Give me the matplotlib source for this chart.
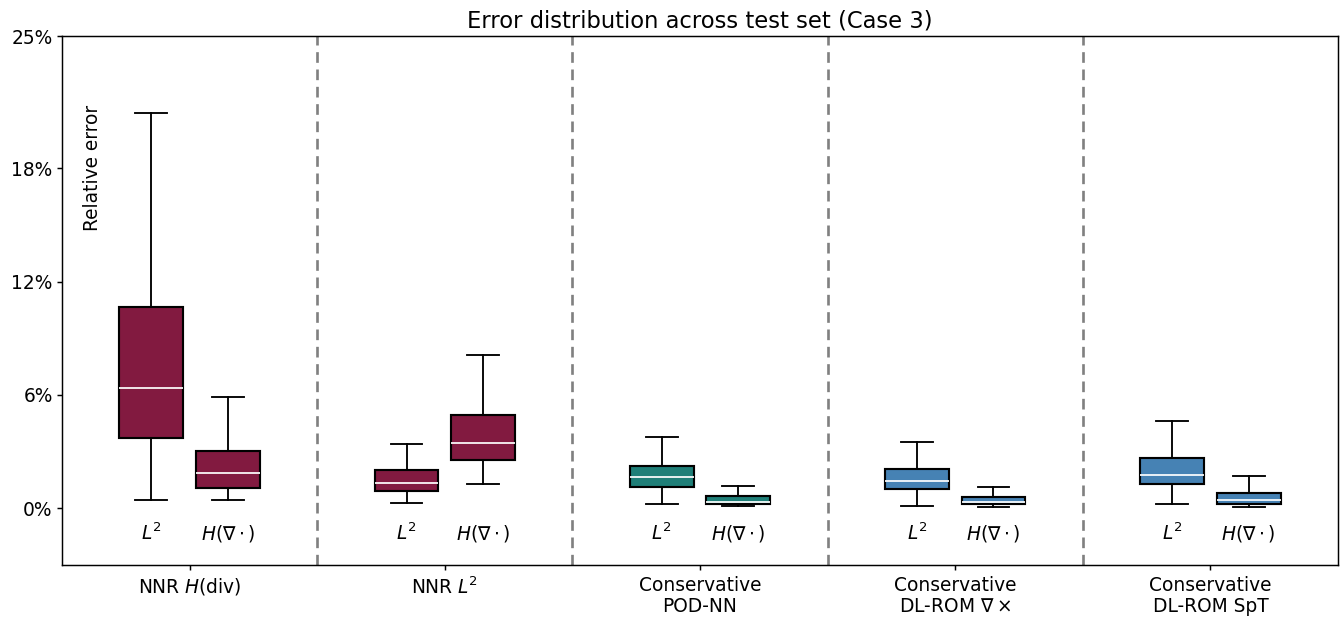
import matplotlib
matplotlib.use("Agg")
import matplotlib.pyplot as plt
from matplotlib.ticker import FuncFormatter

groups = ["NNR $H$(div)", "NNR $L^2$", "Conservative\nPOD-NN",
          "Conservative\nDL-ROM $\\nabla\\times$", "Conservative\nDL-ROM SpT"]
sub_labels = ["$L^2$", "$H(\\nabla\\cdot)$"]
colors = ["#821a40", "#821a40", "#1f7f78", "#4682b4", "#4682b4"]

# stats in percent: (whislo, q1, median, q3, whishi)
l2_stats = [
    (0.42, 3.72, 6.37, 10.64, 20.91),
    (0.28, 0.92, 1.34, 2.01, 3.39),
    (0.23, 1.11, 1.66, 2.22, 3.78),
    (0.11, 1.02, 1.47, 2.08, 3.53),
    (0.21, 1.29, 1.78, 2.65, 4.62),
]
hdiv_stats = [
    (0.44, 1.10, 1.87, 3.05, 5.88),
    (1.31, 2.54, 3.46, 4.96, 8.12),
    (0.14, 0.23, 0.35, 0.64, 1.16),
    (0.07, 0.21, 0.32, 0.58, 1.11),
    (0.09, 0.25, 0.42, 0.83, 1.71),
]
yticks = [0, 6, 12, 18, 25]

fig = plt.figure(figsize=(1343 / 96, 622 / 96), dpi=96)
ax = fig.add_axes([62 / 1343, 1 - 565 / 622, (1338 - 62) / 1343, (565 - 36) / 622])

offset = 0.15
width = 0.25

def mk(s):
    lo, q1, med, q3, hi = [v / 100 for v in s]
    return dict(whislo=lo, q1=q1, med=med, q3=q3, whishi=hi, fliers=[])

for i in range(len(groups)):
    for j, stats in enumerate([l2_stats, hdiv_stats]):
        pos = i + (-offset if j == 0 else offset)
        ax.bxp([mk(stats[i])], positions=[pos], widths=width,
               patch_artist=True, showfliers=False,
               boxprops=dict(facecolor=colors[i], edgecolor="black", linewidth=1.6),
               medianprops=dict(color="white", linewidth=1.3),
               whiskerprops=dict(color="black", linewidth=1.4),
               capprops=dict(color="black", linewidth=1.4))
        ax.text(pos, -0.0132, sub_labels[j], ha="center", va="center", fontsize=14)

for k in range(len(groups) - 1):
    ax.axvline(k + 0.5, color="gray", linestyle="--", linewidth=2, dashes=(4, 2.5))

ax.set_xlim(-0.5, len(groups) - 0.5)
ax.set_ylim(-0.03, 0.25)
ax.set_xticks(range(len(groups)))
ax.set_xticklabels(groups, fontsize=14, linespacing=1.1)
ax.set_yticks([t / 100 for t in yticks])
ax.yaxis.set_major_formatter(FuncFormatter(lambda v, p: f"{v * 100:.0f}%"))
ax.tick_params(axis="y", labelsize=14)
ax.tick_params(axis="x", pad=5)
ax.tick_params(width=1.1)
for s in ax.spines.values():
    s.set_linewidth(1.1)
ax.set_title("Error distribution across test set (Case 3)", fontsize=17, pad=6)
ax.text(0.024, 0.75, "Relative error", transform=ax.transAxes, rotation=90,
        ha="center", va="center", fontsize=14)

fig.savefig("out.png", dpi=96)
